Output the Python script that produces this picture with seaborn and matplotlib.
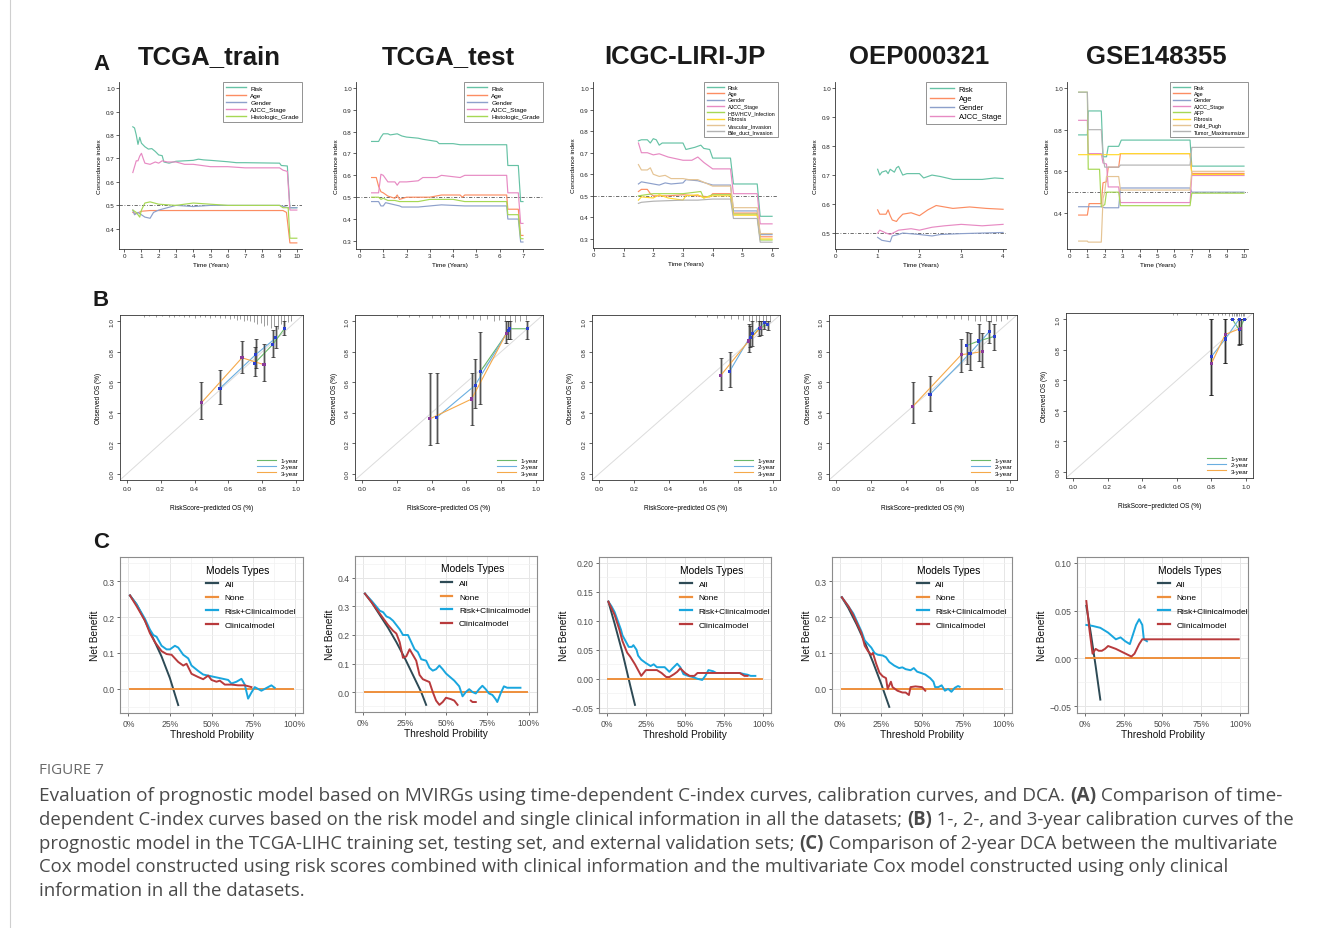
import matplotlib
matplotlib.use("Agg")
import matplotlib.pyplot as plt
import seaborn as sns
import numpy as np
import pandas as pd
from matplotlib.lines import Line2D

# ====================== DATA ======================
A_TITLES = ["TCGA_train", "TCGA_test", "ICGC-LIRI-JP", "OEP000321", "GSE148355"]
A1_NAMES = ["Risk", "Age", "Gender", "AJCC_Stage", "Histologic_Grade"]
A2_NAMES = ["Risk", "Age", "Gender", "AJCC_Stage", "Histologic_Grade"]
A3_NAMES = ["Risk", "Age", "Gender", "AJCC_Stage", "HBV/HCV_Infection", "Fibrosis",
            "Vascular_Invasion", "Bile_duct_Invasion"]
A4_NAMES = ["Risk", "Age", "Gender", "AJCC_Stage"]
A5_NAMES = ["Risk", "Age", "Gender", "AJCC_Stage", "AFP", "Fibrosis", "Child_Pugh",
            "Tumor_Maximumsize"]

# --- TCGA_train (time, C-index)
tr_risk = [(0.5,.835),(0.6,.83),(0.7,.80),(0.8,.76),(0.9,.79),(1.0,.765),(1.2,.75),(1.4,.74),
           (1.6,.742),(1.8,.73),(2.0,.715),(2.2,.712),(2.3,.685),(2.6,.68),(3.0,.688),(3.5,.69),
           (4.0,.692),(4.3,.697),(4.6,.694),(5.0,.692),(6.0,.686),(6.5,.682),(7.0,.682),(9.0,.68),
           (9.1,.67),(9.45,.668),(9.6,.49),(10.0,.49)]
tr_age = [(0.5,.47),(0.7,.465),(1.0,.475),(1.5,.478),(9.2,.478),(9.4,.47),(9.6,.34),(10.0,.34)]
tr_gender = [(0.5,.48),(0.6,.46),(0.8,.47),(1.0,.46),(1.2,.45),(1.5,.445),(1.7,.47),(2.0,.48),
             (2.5,.49),(3.0,.50),(4.0,.495),(5.0,.50),(9.0,.50),(9.5,.49),(10.0,.49)]
tr_ajcc = [(0.5,.64),(0.7,.69),(0.8,.69),(0.9,.71),(1.0,.722),(1.1,.70),(1.2,.68),(1.5,.675),
           (1.8,.685),(2.0,.68),(2.2,.69),(2.5,.685),(3.0,.685),(3.5,.675),(4.0,.675),(4.5,.67),
           (5.0,.665),(6.0,.665),(7.0,.66),(9.0,.66),(9.2,.65),(9.45,.645),(9.6,.48),(10.0,.48)]
tr_grade = [(0.5,.48),(0.7,.47),(0.9,.45),(1.0,.48),(1.2,.51),(1.5,.515),(2.0,.505),(3.0,.50),
            (4.0,.51),(5.0,.505),(6.0,.50),(9.0,.50),(9.2,.49),(9.5,.49),(9.6,.36),(10.0,.36)]

# --- TCGA_test
te_risk = [(0.5,.755),(0.8,.755),(0.9,.775),(1.0,.79),(1.2,.79),(1.3,.785),(1.6,.79),(1.8,.78),
           (2.0,.775),(2.5,.77),(2.7,.765),(3.3,.755),(3.4,.745),(4.0,.745),(4.3,.74),(6.3,.74),
           (6.35,.645),(6.8,.645),(6.9,.48),(7.0,.48)]
te_age = [(0.5,.59),(0.7,.59),(0.8,.55),(0.9,.525),(1.0,.52),(1.2,.505),(1.5,.495),(1.6,.51),
          (1.7,.49),(2.0,.50),(3.0,.50),(3.5,.51),(4.3,.51),(4.4,.50),(4.5,.51),(6.3,.51),
          (6.35,.445),(6.8,.445),(6.9,.325),(7.0,.325)]
te_gender = [(0.5,.48),(0.8,.48),(0.9,.46),(1.0,.46),(1.1,.475),(1.3,.47),(1.7,.46),(1.8,.455),
             (2.5,.455),(3.0,.46),(3.5,.465),(4.5,.46),(6.3,.46),(6.35,.40),(6.8,.40),(6.9,.295),
             (7.0,.295)]
te_ajcc = [(0.5,.52),(0.8,.52),(0.9,.605),(1.0,.60),(1.2,.57),(1.5,.57),(1.6,.555),(1.7,.57),
           (2.0,.57),(2.5,.575),(2.7,.59),(3.3,.59),(3.5,.60),(4.3,.59),(4.5,.60),(6.3,.60),
           (6.35,.52),(6.8,.52),(6.9,.38),(7.0,.38)]
te_grade = [(0.5,.50),(0.8,.50),(0.9,.49),(1.0,.495),(1.2,.485),(1.5,.485),(1.7,.48),(2.5,.48),
            (3.0,.49),(4.0,.49),(4.5,.48),(6.3,.48),(6.35,.42),(6.8,.42),(6.9,.31),(7.0,.31)]

# --- ICGC-LIRI-JP
ic_risk = [(1.5,.755),(1.6,.76),(1.8,.76),(1.9,.745),(2.0,.765),(2.1,.76),(2.2,.735),(2.3,.745),
           (3.0,.745),(3.1,.715),(3.4,.725),(3.6,.735),(3.7,.72),(3.9,.715),(4.0,.675),(4.6,.675),
           (4.7,.555),(5.5,.555),(5.6,.405),(6.0,.405)]
ic_age = [(1.5,.52),(1.6,.53),(1.8,.53),(1.9,.51),(2.0,.50),(2.5,.50),(3.0,.505),(3.5,.50),
          (3.9,.495),(4.0,.51),(4.6,.51),(4.7,.42),(5.5,.42),(5.6,.31),(6.0,.31)]
ic_gender = [(1.5,.555),(1.6,.565),(1.8,.56),(2.0,.555),(2.2,.55),(2.4,.56),(2.6,.555),(3.0,.56),
             (3.1,.575),(3.5,.57),(4.0,.55),(4.6,.55),(4.7,.43),(5.5,.43),(5.6,.32),(6.0,.32)]
ic_ajcc = [(1.5,.745),(1.6,.70),(1.8,.70),(2.0,.69),(2.2,.695),(2.5,.68),(3.0,.665),(3.3,.665),
           (3.5,.68),(3.7,.655),(4.0,.625),(4.6,.625),(4.7,.51),(5.5,.51),(5.6,.37),(6.0,.37)]
ic_hbv = [(1.5,.50),(2.0,.51),(3.0,.51),(3.6,.52),(3.7,.49),(4.0,.505),(4.6,.505),(4.7,.415),
          (5.5,.415),(5.6,.295),(6.0,.295)]
ic_fib = [(1.5,.48),(1.6,.495),(2.0,.49),(2.2,.505),(2.5,.49),(3.0,.48),(3.1,.50),(3.5,.505),
          (3.7,.49),(4.0,.50),(4.6,.50),(4.7,.41),(5.5,.41),(5.6,.30),(6.0,.30)]
ic_vasc = [(1.5,.645),(1.6,.62),(1.8,.62),(1.9,.63),(2.0,.60),(2.2,.59),(2.4,.595),(2.6,.58),
           (3.0,.58),(3.2,.575),(3.5,.575),(4.0,.545),(4.6,.545),(4.7,.445),(5.5,.445),(5.6,.325),
           (6.0,.325)]
ic_bile = [(1.5,.465),(1.6,.47),(2.0,.475),(3.0,.48),(3.5,.48),(4.0,.485),(4.6,.485),(4.7,.395),
           (5.5,.395),(5.6,.285),(6.0,.285)]

# --- OEP000321
oe_risk = [(1.0,.72),(1.05,.70),(1.1,.71),(1.2,.715),(1.25,.705),(1.3,.72),(1.4,.71),(1.45,.725),
           (1.5,.73),(1.55,.715),(1.6,.70),(1.7,.705),(2.0,.705),(2.1,.69),(2.3,.70),(2.5,.695),
           (2.8,.685),(3.5,.685),(3.8,.69),(4.0,.688)]
oe_age = [(1.0,.58),(1.05,.565),(1.2,.565),(1.25,.58),(1.3,.56),(1.35,.545),(1.45,.54),(1.5,.55),
          (1.6,.565),(1.8,.57),(2.0,.56),(2.2,.58),(2.4,.595),(2.8,.585),(3.2,.59),(3.6,.585),
          (4.0,.582)]
oe_gender = [(1.0,.485),(1.1,.475),(1.3,.47),(1.35,.49),(1.5,.495),(1.6,.50),(2.0,.495),(2.3,.49),
             (2.5,.495),(3.0,.498),(3.5,.50),(4.0,.502)]
oe_ajcc = [(1.0,.50),(1.05,.51),(1.2,.50),(1.3,.495),(1.5,.51),(1.8,.515),(2.0,.51),(2.3,.52),
           (2.6,.525),(3.0,.53),(3.5,.525),(4.0,.53)]

# --- GSE148355
gs_risk = [(0.5,.775),(1.0,.775),(1.05,.89),(1.8,.89),(1.9,.67),(2.1,.67),(2.2,.72),(2.8,.72),
           (2.95,.75),(6.9,.75),(7.0,.625),(10.0,.625)]
gs_age = [(0.5,.39),(1.0,.39),(1.1,.445),(1.8,.445),(1.9,.545),(2.1,.55),(2.2,.62),(2.8,.62),
          (2.9,.685),(6.9,.685),(7.0,.59),(10.0,.59)]
gs_gender = [(0.5,.43),(1.8,.43),(2.0,.425),(2.8,.425),(2.9,.52),(6.9,.52),(7.0,.50),(10.0,.50)]
gs_ajcc = [(0.5,.845),(1.0,.845),(1.05,.685),(1.8,.685),(1.9,.64),(2.1,.635),(2.2,.525),(2.8,.525),
           (2.9,.45),(6.9,.45),(7.0,.58),(10.0,.58)]
gs_afp = [(0.5,.98),(1.0,.98),(1.05,.61),(1.7,.61),(1.8,.43),(2.0,.44),(2.1,.50),(2.8,.50),
          (2.9,.435),(6.9,.435),(7.0,.495),(10.0,.495)]
gs_fib = [(0.5,.68),(2.8,.68),(2.9,.685),(6.9,.685),(7.0,.585),(10.0,.585)]
gs_child = [(0.5,.265),(1.0,.265),(1.05,.26),(1.8,.26),(1.9,.47),(2.0,.50),(2.1,.575),(2.8,.575),
            (2.9,.51),(6.9,.51),(7.0,.60),(10.0,.60)]
gs_tumor = [(0.5,.98),(1.0,.98),(1.05,.80),(1.8,.80),(1.9,.67),(2.0,.62),(2.8,.62),(2.9,.63),
            (6.9,.63),(7.0,.715),(10.0,.715)]

# ---------------- Row B: calibration (pred, obs, lo, hi) ----------------
CAL_YEARS = ["1-year", "2-year", "3-year"]
b1_pred = [[0.755, 0.86, 0.93], [0.55, 0.76, 0.88], [0.44, 0.68, 0.81]]
b1_obs  = [[0.725, 0.845, 0.95], [0.56, 0.78, 0.89], [0.465, 0.76, 0.715]]
b1_lo   = [[0.64, 0.765, 0.91], [0.46, 0.69, 0.825], [0.36, 0.66, 0.61]]
b1_hi   = [[0.83, 0.94, 1.0], [0.68, 0.885, 0.965], [0.60, 0.87, 0.85]]
b2_pred = [[0.68, 0.85, 0.95], [0.43, 0.65, 0.84], [0.39, 0.63, 0.83]]
b2_obs  = [[0.67, 0.95, 0.95], [0.37, 0.58, 0.94], [0.36, 0.49, 0.92]]
b2_lo   = [[0.46, 0.88, 0.88], [0.20, 0.43, 0.88], [0.19, 0.32, 0.86]]
b2_hi   = [[0.93, 1.0, 1.0], [0.66, 0.75, 1.0], [0.66, 0.66, 1.0]]
b3_pred = [[0.87, 0.92, 0.97], [0.75, 0.88, 0.95], [0.70, 0.86, 0.93]]
b3_obs  = [[0.89, 0.95, 0.98], [0.67, 0.92, 0.99], [0.645, 0.87, 0.96]]
b3_lo   = [[0.83, 0.90, 0.94], [0.57, 0.84, 0.95], [0.55, 0.80, 0.91]]
b3_hi   = [[0.97, 1.0, 1.0], [0.80, 1.0, 1.0], [0.76, 0.98, 1.0]]
b4_pred = [[0.75, 0.82, 0.91], [0.54, 0.77, 0.88], [0.44, 0.72, 0.84]]
b4_obs  = [[0.84, 0.87, 0.90], [0.52, 0.79, 0.93], [0.44, 0.78, 0.80]]
b4_lo   = [[0.72, 0.74, 0.81], [0.41, 0.68, 0.86], [0.33, 0.67, 0.70]]
b4_hi   = [[0.93, 0.98, 0.98], [0.64, 0.92, 1.0], [0.60, 0.88, 0.92]]
b5_pred = [[0.92, 0.96, 0.99], [0.80, 0.88, 0.96], [0.80, 0.88, 0.97]]
b5_obs  = [[1.0, 0.93, 1.0], [0.755, 0.87, 1.0], [0.71, 0.90, 0.94]]
b5_lo   = [[1.0, 0.83, 1.0], [0.505, 0.715, 0.835], [0.505, 0.715, 0.835]]
b5_hi   = [[1.0, 1.0, 1.0], [1.0, 1.0, 1.0], [1.0, 1.0, 1.0]]

# rug of predicted values (position, spike length)
b1_rug = [(0.10,.01),(0.13,.008),(0.17,.01),(0.21,.008),(0.25,.012),(0.28,.01),(0.31,.008),
          (0.34,.012),(0.37,.01),(0.40,.015),(0.43,.01),(0.46,.012),(0.49,.015),(0.52,.012),
          (0.55,.018),(0.58,.015),(0.61,.02),(0.63,.018),(0.65,.025),(0.67,.02),(0.69,.03),
          (0.71,.025),(0.73,.035),(0.75,.04),(0.77,.05),(0.79,.045),(0.81,.06),(0.83,.055),
          (0.85,.07),(0.87,.06),(0.89,.075),(0.91,.05),(0.93,.06),(0.95,.04),(0.97,.03)]
b2_rug = [(0.20,.01),(0.27,.012),(0.33,.01),(0.40,.015),(0.45,.012),(0.50,.015),(0.55,.02),
          (0.60,.015),(0.64,.02),(0.68,.025),(0.72,.02),(0.76,.03),(0.79,.025),(0.82,.035),
          (0.85,.03),(0.88,.04),(0.91,.03),(0.94,.025)]
b3_rug = [(0.55,.01),(0.62,.012),(0.68,.015),(0.72,.015),(0.76,.02),(0.80,.02),(0.83,.025),
          (0.86,.03),(0.88,.035),(0.90,.04),(0.92,.05),(0.94,.06),(0.96,.05),(0.98,.04)]
b4_rug = [(0.38,.01),(0.45,.012),(0.52,.012),(0.58,.015),(0.63,.015),(0.68,.02),(0.72,.02),
          (0.76,.025),(0.80,.03),(0.83,.03),(0.86,.035),(0.89,.04),(0.92,.035),(0.95,.03),
          (0.98,.02)]
b5_rug = [(0.58,.012),(0.60,.012),(0.71,.012),(0.74,.012),(0.78,.012),(0.81,.012),(0.84,.012),
          (0.86,.012),(0.88,.012),(0.90,.015),(0.92,.015),(0.93,.015),(0.94,.015),(0.95,.015),
          (0.96,.015),(0.97,.015),(0.98,.015),(0.99,.015)]

# ---------------- Row C: decision curves (threshold, net benefit) ----------------
DCA_NAMES = ["All", "None", "Risk+Clinicalmodel", "Clinicalmodel"]
none_line = [(0.01, 0.0), (0.99, 0.0)]
c1_all = [(0.01,.26),(0.05,.235),(0.10,.19),(0.15,.14),(0.20,.09),(0.25,.03),(0.30,-.045)]
c1_rc = [(0.01,.26),(0.05,.235),(0.10,.195),(0.13,.165),(0.15,.15),(0.17,.145),(0.20,.12),
         (0.23,.11),(0.25,.11),(0.28,.12),(0.30,.115),(0.33,.095),(0.36,.085),(0.38,.065),
         (0.42,.05),(0.45,.04),(0.50,.035),(0.55,.03),(0.60,.025),(0.62,.015),(0.65,.02),
         (0.68,.028),(0.70,.012),(0.72,-.027),(0.74,-.01),(0.76,.005),(0.80,-.005),(0.84,.005),
         (0.86,.01),(0.88,.003)]
c1_cl = [(0.01,.26),(0.05,.23),(0.10,.19),(0.13,.155),(0.16,.13),(0.20,.105),(0.23,.097),
         (0.26,.095),(0.28,.085),(0.30,.075),(0.33,.065),(0.35,.07),(0.38,.042),(0.42,.033),
         (0.45,.027),(0.48,.037),(0.50,.025),(0.53,.02),(0.55,.023),(0.58,.012),(0.62,.012),
         (0.66,.01),(0.70,.01),(0.74,.005)]
c2_all = [(0.01,.345),(0.05,.315),(0.10,.27),(0.15,.225),(0.20,.175),(0.25,.12),(0.30,.06),
          (0.35,.0),(0.38,-.045)]
c2_rc = [(0.01,.345),(0.05,.32),(0.10,.285),(0.12,.28),(0.14,.265),(0.16,.26),(0.18,.25),
         (0.20,.235),(0.22,.22),(0.24,.20),(0.27,.20),(0.29,.175),(0.31,.15),(0.33,.14),(0.35,.115),
         (0.38,.11),(0.40,.085),(0.42,.075),(0.44,.08),(0.46,.093),(0.48,.08),(0.50,.065),
         (0.52,.055),(0.55,.04),(0.58,.02),(0.60,-.015),(0.62,.0),(0.64,.01),(0.66,.0),
         (0.68,-.005),(0.70,.01),(0.72,.022),(0.74,.01),(0.76,-.005),(0.78,-.01),(0.80,-.025),
         (0.81,-.035),(0.83,-.005),(0.85,.02),(0.87,.015),(0.95,.015)]
c2_cl_a = [(0.01,.345),(0.05,.315),(0.10,.275),(0.15,.235),(0.18,.215),(0.20,.205),(0.22,.175),
           (0.24,.12),(0.26,.125),(0.28,.15),(0.30,.13),(0.32,.11),(0.34,.06),(0.36,.045),
           (0.38,.04),(0.40,.035),(0.42,.0),(0.44,-.03),(0.46,-.045),(0.48,-.035),(0.50,-.02),
           (0.53,-.025),(0.55,-.03),(0.57,-.045)]
c2_cl_b = [(0.65,-.03),(0.66,-.035),(0.68,-.035)]
c3_all = [(0.01,.133),(0.05,.095),(0.10,.045),(0.15,-.012),(0.18,-.045)]
c3_rc = [(0.01,.133),(0.03,.125),(0.05,.115),(0.07,.10),(0.09,.085),(0.10,.075),(0.12,.065),
         (0.14,.055),(0.16,.055),(0.17,.058),(0.19,.05),(0.20,.04),(0.22,.033),(0.25,.027),
         (0.28,.022),(0.30,.025),(0.32,.02),(0.35,.02),(0.37,.02),(0.40,.012),(0.42,.018),
         (0.45,.026),(0.47,.02),(0.49,.008),(0.52,.005),(0.55,.003),(0.58,.0),(0.61,-.002),
         (0.63,.005),(0.65,.015),(0.68,.013),(0.70,.01),(0.85,.01),(0.88,.008),(0.90,.007),
         (0.92,.005),(0.95,.005)]
c3_cl = [(0.01,.133),(0.05,.11),(0.08,.085),(0.10,.065),(0.13,.045),(0.15,.038),(0.18,.025),
         (0.20,.015),(0.22,.005),(0.25,.015),(0.28,.015),(0.32,.015),(0.35,.01),(0.38,.003),
         (0.40,.003),(0.43,.008),(0.45,.012),(0.47,.018),(0.50,.01),(0.53,.005),(0.56,.005),
         (0.58,.01),(0.65,.01),(0.75,.01),(0.85,.01),(0.88,.005),(0.90,.005)]
c4_all = [(0.01,.255),(0.05,.225),(0.10,.18),(0.15,.13),(0.20,.075),(0.25,.015),(0.30,-.05)]
c4_rc = [(0.01,.255),(0.05,.23),(0.08,.21),(0.10,.19),(0.13,.16),(0.15,.135),(0.17,.125),
         (0.19,.115),(0.21,.10),(0.23,.095),(0.26,.093),(0.28,.088),(0.30,.075),(0.33,.065),
         (0.36,.058),(0.38,.06),(0.40,.055),(0.43,.052),(0.45,.058),(0.47,.048),(0.49,.045),
         (0.52,.04),(0.55,.03),(0.57,.02),(0.58,.005),(0.60,.005),(0.62,.01),(0.64,-.005),
         (0.66,.0),(0.68,-.008),(0.70,.003),(0.72,.008),(0.73,.006)]
c4_cl = [(0.01,.255),(0.05,.23),(0.08,.205),(0.10,.185),(0.13,.155),(0.15,.12),(0.17,.105),
         (0.19,.095),(0.20,.10),(0.22,.07),(0.24,.045),(0.26,.035),(0.28,.03),(0.29,.0),
         (0.31,.02),(0.32,.005),(0.35,-.005),(0.38,-.01),(0.40,-.01),(0.42,-.017),(0.43,.005),
         (0.46,.007),(0.50,.005),(0.52,-.005)]
c5_all = [(0.01,.055),(0.04,.025),(0.07,-.008),(0.10,-.043)]
c5_rc = [(0.01,.035),(0.05,.034),(0.10,.032),(0.15,.027),(0.20,.02),(0.23,.022),(0.26,.018),
         (0.29,.015),(0.31,.025),(0.33,.035),(0.35,.041),(0.37,.035),(0.38,.02),(0.40,.018)]
c5_cl = [(0.01,.06),(0.03,.03),(0.05,.005),(0.07,.01),(0.09,.008),(0.11,.008),(0.13,.01),
         (0.15,.013),(0.20,.01),(0.25,.006),(0.30,.002),(0.32,.005),(0.35,.015),(0.37,.02),
         (0.99,.02)]

# ====================== FIGURE ======================
W, H = 1322, 929
fig = plt.figure(figsize=(W / 100, H / 100), dpi=100)
plt.rcParams['font.family'] = ['Liberation Sans', 'DejaVu Sans']
SET2 = sns.color_palette("Set2", 8)


def px_axes(x0, y0, x1, y1):
    return fig.add_axes([x0 / W, 1 - y1 / H, (x1 - x0) / W, (y1 - y0) / H])


def draw_line(ax, pairs, color, lw, zorder=2):
    df = pd.DataFrame(pairs, columns=["x", "y"])
    sns.lineplot(data=df, x="x", y="y", ax=ax, color=color, linewidth=lw,
                 estimator=None, sort=False, legend=False, zorder=zorder)


# ---------- Row A ----------
A_BOXES = [(119, 83, 302, 250), (356, 83, 543, 250), (593, 83, 778, 249),
           (835, 83, 1006, 250), (1067, 83, 1248, 250)]
A_XLIM = [(-0.3, 10.3), (-0.17, 7.86), (-0.03, 6.2), (-0.02, 4.07), (-0.17, 10.23)]
A_YLIM = [(0.314, 1.026), (0.263, 1.027), (0.258, 1.028), (0.445, 1.021), (0.227, 1.029)]
A_XT = [range(0, 11), range(0, 8), range(0, 7), range(0, 5), range(0, 11)]
A_YT = [np.arange(0.4, 1.01, 0.1), np.arange(0.3, 1.01, 0.1), np.arange(0.3, 1.01, 0.1),
        np.arange(0.5, 1.01, 0.1), np.arange(0.4, 1.01, 0.2)]
A_SERIES = [[tr_risk, tr_age, tr_gender, tr_ajcc, tr_grade],
            [te_risk, te_age, te_gender, te_ajcc, te_grade],
            [ic_risk, ic_age, ic_gender, ic_ajcc, ic_hbv, ic_fib, ic_vasc, ic_bile],
            [oe_risk, oe_age, oe_gender, oe_ajcc],
            [gs_risk, gs_age, gs_gender, gs_ajcc, gs_afp, gs_fib, gs_child, gs_tumor]]
A_NAMESETS = [A1_NAMES, A2_NAMES, A3_NAMES, A4_NAMES, A5_NAMES]
A_LEGFS = [4.6, 4.6, 3.9, 5.4, 3.9]

for i in range(5):
    ax = px_axes(*A_BOXES[i])
    for j, s in enumerate(A_SERIES[i]):
        draw_line(ax, s, SET2[j], 0.85)
    ax.axhline(0.5, color="#555555", lw=0.6, ls=(0, (4, 2, 1, 2)), zorder=1)
    ax.set_xlim(*A_XLIM[i])
    ax.set_ylim(*A_YLIM[i])
    ax.set_xticks(list(A_XT[i]))
    ax.set_yticks(A_YT[i])
    ax.set_yticklabels([f"{v:.1f}" for v in A_YT[i]])
    for sp in ["top", "right"]:
        ax.spines[sp].set_visible(False)
    for sp in ["left", "bottom"]:
        ax.spines[sp].set_linewidth(0.6)
        ax.spines[sp].set_color("#333333")
    ax.tick_params(direction="out", length=2, width=0.5, labelsize=4.5, pad=1,
                   colors="#222222")
    ax.set_xlabel("Time (Years)", fontsize=4.6, labelpad=3)
    ax.set_ylabel("Concordance index", fontsize=4.6, labelpad=3)
    handles = [Line2D([], [], color=SET2[j], lw=1.0) for j in range(len(A_NAMESETS[i]))]
    leg = ax.legend(handles, A_NAMESETS[i], loc="upper right", fontsize=A_LEGFS[i],
                    frameon=True, fancybox=False, borderaxespad=0, handlelength=3.2,
                    labelspacing=0.25, borderpad=0.5, handletextpad=0.6)
    leg.get_frame().set_edgecolor("#777777")
    leg.get_frame().set_linewidth(0.7)
    cx = (A_BOXES[i][0] + A_BOXES[i][2]) / 2 - 1
    fig.text(cx / W, 1 - 57 / H, A_TITLES[i], fontsize=18.5, fontweight="bold",
             ha="center", va="center", color="#1a1a1a")

# ---------- Row B ----------
B_BOXES = [(120, 316, 303, 481), (355, 316, 543, 481), (592, 316, 780, 481),
           (829, 316, 1017, 481), (1066, 314, 1253, 479)]
B_DATA = [(b1_pred, b1_obs, b1_lo, b1_hi, b1_rug), (b2_pred, b2_obs, b2_lo, b2_hi, b2_rug),
          (b3_pred, b3_obs, b3_lo, b3_hi, b3_rug), (b4_pred, b4_obs, b4_lo, b4_hi, b4_rug),
          (b5_pred, b5_obs, b5_lo, b5_hi, b5_rug)]
CAL_COLORS = ["#6ab86a", "#6aaee0", "#f5a94a"]
MARK_COLORS = ["#2b3fd0", "#2b3fd0", "#8a3a9a"]

for i in range(5):
    ax = px_axes(*B_BOXES[i])
    pred, obs, lo, hi, rug = B_DATA[i]
    ax.plot([-0.04, 1.04], [-0.04, 1.04], color="#dcdcdc", lw=0.7, zorder=1)
    for k in range(3):
        df = pd.DataFrame({"p": pred[k], "o": obs[k]})
        sns.lineplot(data=df, x="p", y="o", ax=ax, color=CAL_COLORS[k], lw=0.8,
                     estimator=None, sort=False, legend=False, zorder=3)
    for k in range(3):
        p = np.array(pred[k]); o = np.array(obs[k])
        yerr = [o - np.array(lo[k]), np.array(hi[k]) - o]
        ax.errorbar(p, o, yerr=yerr, fmt="none", ecolor="#a8a8a8", elinewidth=1.8,
                    capsize=0, zorder=2)
        ax.errorbar(p, o, yerr=yerr, fmt="none", ecolor="#222222", elinewidth=0.45,
                    capsize=1.5, capthick=0.5, zorder=4)
        sns.scatterplot(x=p, y=o, ax=ax, color=MARK_COLORS[k], marker="s", s=5,
                        edgecolor="none", zorder=5, legend=False)
    rx = [r[0] for r in rug]; rh = [r[1] for r in rug]
    ax.vlines(rx, [1.04 - h * 1.2 for h in rh], 1.04, color="#777777", lw=0.5, zorder=2)
    ax.set_xlim(-0.04, 1.04)
    ax.set_ylim(-0.04, 1.04)
    ticks = [0.0, 0.2, 0.4, 0.6, 0.8, 1.0]
    ax.set_xticks(ticks); ax.set_yticks(ticks)
    ax.set_xticklabels([f"{t:.1f}" for t in ticks])
    ax.set_yticklabels([f"{t:.1f}" for t in ticks], rotation=90, va="center")
    for sp in ax.spines.values():
        sp.set_linewidth(0.6); sp.set_color("#333333")
    ax.tick_params(direction="out", length=2, width=0.5, labelsize=4.6, pad=2,
                   colors="#222222")
    ax.set_xlabel("RiskScore\u2212predicted OS (%)", fontsize=4.7, labelpad=10)
    ax.set_ylabel("Observed OS (%)", fontsize=4.7, labelpad=5)
    handles = [Line2D([], [], color=CAL_COLORS[k], lw=0.8) for k in range(3)]
    ax.legend(handles, CAL_YEARS, loc="lower right", fontsize=4.5, frameon=False,
              handlelength=3.0, labelspacing=0.15, borderaxespad=0.3, handletextpad=0.8)
    ax.set_facecolor("white")

# ---------- Row C ----------
C_BOXES = [(120, 558, 303, 714), (355, 557, 537, 713), (599, 558, 771, 714),
           (832, 558, 1012, 714), (1077, 558, 1248, 714)]
C_YLIM = [(-0.067, 0.367), (-0.07, 0.477), (-0.059, 0.21), (-0.067, 0.367), (-0.057, 0.106)]
C_YT = [[0.0, 0.1, 0.2, 0.3], [0.0, 0.1, 0.2, 0.3, 0.4], [-0.05, 0.0, 0.05, 0.10, 0.15, 0.20],
        [0.0, 0.1, 0.2, 0.3], [-0.05, 0.0, 0.05, 0.10]]
C_YFMT = ["{:.1f}", "{:.1f}", "{:.2f}", "{:.1f}", "{:.2f}"]
C_MINOR = [0.05, 0.05, 0.025, 0.05, 0.025]
C_SERIES = [(c1_all, [c1_rc], [c1_cl]), (c2_all, [c2_rc], [c2_cl_a, c2_cl_b]),
            (c3_all, [c3_rc], [c3_cl]), (c4_all, [c4_rc], [c4_cl]),
            (c5_all, [c5_rc], [c5_cl])]
DCA_COLORS = ["#2d4a55", "#ee8f3c", "#19a6de", "#b83a3c"]

for i in range(5):
    ax = px_axes(*C_BOXES[i])
    ax.set_facecolor("white")
    allc, rcs, cls = C_SERIES[i]
    draw_line(ax, allc, DCA_COLORS[0], 1.4, zorder=3)
    draw_line(ax, none_line, DCA_COLORS[1], 1.4, zorder=3)
    for s in rcs:
        draw_line(ax, s, DCA_COLORS[2], 1.4, zorder=4)
    for s in cls:
        draw_line(ax, s, DCA_COLORS[3], 1.4, zorder=5)
    ax.set_xlim(-0.05, 1.05)
    ax.set_ylim(*C_YLIM[i])
    ax.set_xticks([0, 0.25, 0.5, 0.75, 1.0])
    ax.set_xticklabels(["0%", "25%", "50%", "75%", "100%"])
    ax.set_xticks([0.125, 0.375, 0.625, 0.875], minor=True)
    ax.set_yticks(C_YT[i])
    ax.set_yticklabels([C_YFMT[i].format(v).replace("-", "\u2212") for v in C_YT[i]])
    ymin_t = [v + C_MINOR[i] for v in C_YT[i][:-1]]
    ymin_t = [C_YT[i][0] - C_MINOR[i]] + ymin_t + [C_YT[i][-1] + C_MINOR[i]]
    ax.set_yticks(ymin_t, minor=True)
    ax.set_ylim(*C_YLIM[i])
    ax.grid(True, which="major", color="#e6e6e6", lw=0.7, zorder=0)
    ax.grid(True, which="minor", color="#f2f2f2", lw=0.5, zorder=0)
    ax.set_axisbelow(True)
    for sp in ax.spines.values():
        sp.set_linewidth(0.8); sp.set_color("#8c8c8c")
    ax.tick_params(which="major", direction="out", length=2.5, width=0.6, labelsize=6.2,
                   pad=1.5, colors="#555555", labelcolor="#4d4d4d")
    ax.tick_params(which="minor", length=0)
    ax.set_xlabel("Threshold Probility", fontsize=7.3, labelpad=1, color="#111111")
    ax.set_ylabel("Net Benefit", fontsize=7.3, labelpad=2, color="#111111")
    handles = [Line2D([], [], color=c, lw=1.6) for c in DCA_COLORS]
    leg = ax.legend(handles, DCA_NAMES, title="Models Types", loc="upper left",
                    bbox_to_anchor=(0.43, 1.0), fontsize=6.0, title_fontsize=7.4,
                    frameon=False, handlelength=1.4, labelspacing=0.68, borderpad=0.4,
                    handletextpad=0.8)
    leg._legend_box.align = "left"

# ---------- Panel letters ----------
for lab, y in [("A", 65), ("B", 301), ("C", 543)]:
    fig.text(101 / W, 1 - y / H, lab, fontsize=16, fontweight="bold", ha="center",
             va="center", color="#1a1a1a")

# ---------- Frame lines ----------
fig.add_artist(Line2D([10 / W, 10 / W], [0, 1], color="#cfcfcf", lw=0.8))

# ---------- Caption ----------
renderer = fig.canvas.get_renderer()
CAP_FAMILY = ["Open Sans", "DejaVu Sans"]
cap_lines = [
    [("Evaluation of prognostic model based on MVIRGs using time-dependent C-index curves, calibration curves, and DCA. ", False),
     ("(A)", True), (" Comparison of time-", False)],
    [("dependent C-index curves based on the risk model and single clinical information in all the datasets; ", False),
     ("(B)", True), (" 1-, 2-, and 3-year calibration curves of the", False)],
    [("prognostic model in the TCGA-LIHC training set, testing set, and external validation sets; ", False),
     ("(C)", True), (" Comparison of 2-year DCA between the multivariate", False)],
    [("Cox model constructed using risk scores combined with clinical information and the multivariate Cox model constructed using only clinical", False)],
    [("information in all the datasets.", False)],
]
CAP_LINE_END = [1277, 1287, 1275, 1222, 307]


def seg_width(txt, bold, size):
    t1 = fig.text(0, 0, txt + "|", fontsize=size, fontweight="bold" if bold else "normal",
                  family=CAP_FAMILY)
    t2 = fig.text(0, 0, "|", fontsize=size, fontweight="bold" if bold else "normal",
                  family=CAP_FAMILY)
    w = t1.get_window_extent(renderer).width - t2.get_window_extent(renderer).width
    t1.remove(); t2.remove()
    return w


base = 12.0
sizes = []
for li, segs in enumerate(cap_lines):
    wl = sum(seg_width(t, b, base) for t, b in segs)
    sizes.append(base * (CAP_LINE_END[li] - 39) / wl)
mean_size = float(np.mean(sizes[:4]))

fig.text(39 / W, 1 - 771 / H, "FIGURE 7", fontsize=mean_size * 0.82, color="#6a6a6a",
         family=CAP_FAMILY, ha="left", va="center")
for li, segs in enumerate(cap_lines):
    x = 39.0
    y = 796 + li * 23.8
    size = sizes[li] if li < 4 else mean_size
    for txt, bold in segs:
        fig.text(x / W, 1 - y / H, txt, fontsize=size,
                 fontweight="bold" if bold else "normal", color="#4a4a4a",
                 family=CAP_FAMILY, ha="left", va="center")
        x += seg_width(txt, bold, size)

fig.savefig("out.png", dpi=100, facecolor="white")
